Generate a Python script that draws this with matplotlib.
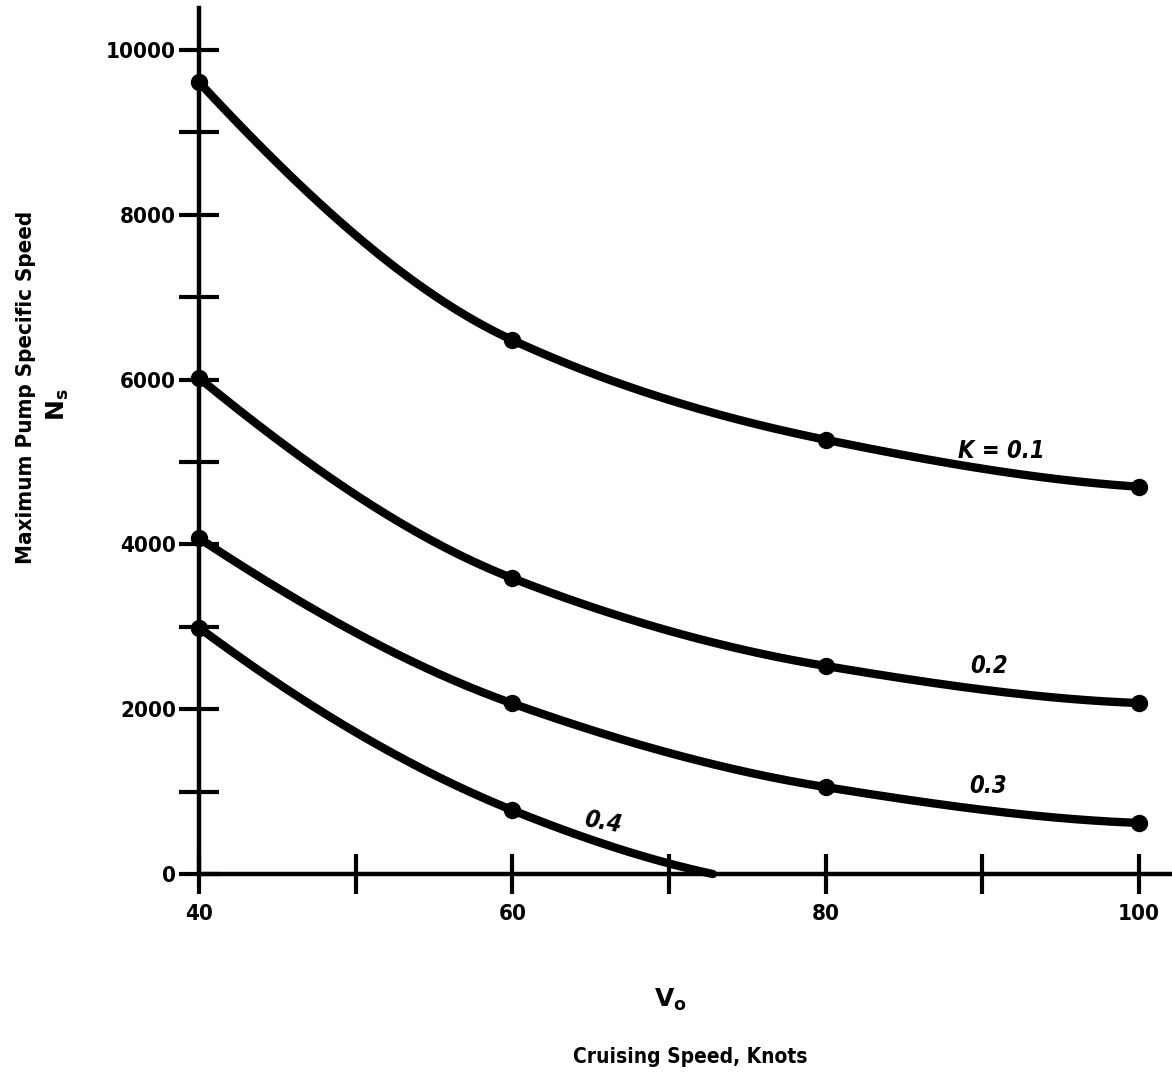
import matplotlib
matplotlib.use("Agg")
import matplotlib.pyplot as plt
import numpy as np

# data
speed = [40, 60, 80, 100]
ns_k01 = [9610, 6480, 5270, 4700]
ns_k02 = [6020, 3590, 2525, 2075]
ns_k03 = [4075, 2070, 1055, 620]
ns_k04 = [2990, 775]
k04_zero_speed = 72.8   # where the K=0.4 curve runs into the axis
curve_labels = ["K = 0.1", "0.2", "0.3", "0.4"]

plt.rcParams['font.family'] = ['DejaVu Sans']
plt.rcParams['mathtext.default'] = 'bf'


def smooth(x, y, n=200):
    # monotone cubic (pchip style) through the points, just for drawing
    x = np.asarray(x, float)
    y = np.asarray(y, float)
    h = np.diff(x)
    d = np.diff(y) / h
    m = np.zeros_like(y)
    for i in range(1, len(x) - 1):
        if d[i - 1] * d[i] > 0:
            w1 = 2 * h[i] + h[i - 1]
            w2 = h[i] + 2 * h[i - 1]
            m[i] = (w1 + w2) / (w1 / d[i - 1] + w2 / d[i])
    m[0] = ((2 * h[0] + h[1]) * d[0] - h[0] * d[1]) / (h[0] + h[1]) if len(x) > 2 else d[0]
    m[-1] = ((2 * h[-1] + h[-2]) * d[-1] - h[-1] * d[-2]) / (h[-1] + h[-2]) if len(x) > 2 else d[-1]
    if np.sign(m[0]) != np.sign(d[0]):
        m[0] = 0
    if np.sign(m[-1]) != np.sign(d[-1]):
        m[-1] = 0
    xs = np.linspace(x[0], x[-1], n)
    idx = np.clip(np.searchsorted(x, xs) - 1, 0, len(x) - 2)
    t = (xs - x[idx]) / h[idx]
    h00 = 2 * t**3 - 3 * t**2 + 1
    h10 = t**3 - 2 * t**2 + t
    h01 = -2 * t**3 + 3 * t**2
    h11 = t**3 - t**2
    ys = h00 * y[idx] + h10 * h[idx] * m[idx] + h01 * y[idx + 1] + h11 * h[idx] * m[idx + 1]
    return xs, ys


fig = plt.figure(figsize=(11.72, 10.8), dpi=100)
ax = fig.add_axes([0.1698, 0.1907, 0.8302, 0.8019])
ax.set_xlim(40, 102.1)
ax.set_ylim(0, 10510)

lw = 6
for ys in [ns_k01, ns_k02, ns_k03]:
    cx, cy = smooth(speed, ys)
    ax.plot(cx, cy, color='black', lw=lw, solid_capstyle='round', clip_on=False, zorder=3)
    ax.plot(speed, ys, 'o', color='black', ms=11.5, clip_on=False, zorder=4)

# K = 0.4 stops where it meets zero
cx, cy = smooth(speed[:2] + [k04_zero_speed], ns_k04 + [0])
ax.plot(cx, cy, color='black', lw=lw, solid_capstyle='round', clip_on=False, zorder=3)
ax.plot(speed[:2], ns_k04, 'o', color='black', ms=11.5, clip_on=False, zorder=4)

# curve labels
lab_font = dict(fontsize=17, fontweight='bold', fontstyle='italic', ha='center', va='center',
                fontstretch='condensed')
ax.text(91.2, 5130, curve_labels[0], **lab_font)
ax.text(90.4, 2520, curve_labels[1], **lab_font)
ax.text(90.35, 1070, curve_labels[2], **lab_font)
ax.text(65.75, 630, curve_labels[3], rotation=-10, **lab_font)

# axes
for s in ['top', 'right']:
    ax.spines[s].set_visible(False)
for s in ['left', 'bottom']:
    ax.spines[s].set_linewidth(3.2)

ax.set_xticks([40, 60, 80, 100])
ax.set_xticks([50, 70, 90], minor=True)
ax.set_yticks([0, 2000, 4000, 6000, 8000, 10000])
ax.set_yticks([1000, 3000, 5000, 7000, 9000], minor=True)
ax.tick_params(which='both', direction='inout', length=29, width=3, color='black')
ax.tick_params(axis='y', which='major', pad=2)
ax.tick_params(axis='x', which='major', pad=7)
for lbl in ax.get_xticklabels() + ax.get_yticklabels():
    lbl.set_fontsize(16)
    lbl.set_fontweight('bold')
    lbl.set_fontstretch('condensed')

# axis titles
fig.text(0.0222, 0.641, "Maximum Pump Specific Speed", rotation=90, ha='center', va='center',
         fontsize=16, fontweight='bold', fontstretch='condensed')
fig.text(0.0495, 0.625, "$N_s$", rotation=90, ha='center', va='center', fontsize=18)
fig.text(0.5717, 0.074, "$V_o$", ha='center', va='center', fontsize=18)
fig.text(0.589, 0.0213, "Cruising Speed, Knots", ha='center', va='center',
         fontsize=15, fontweight='bold', fontstretch='condensed')

fig.savefig("out.png", dpi=100)
